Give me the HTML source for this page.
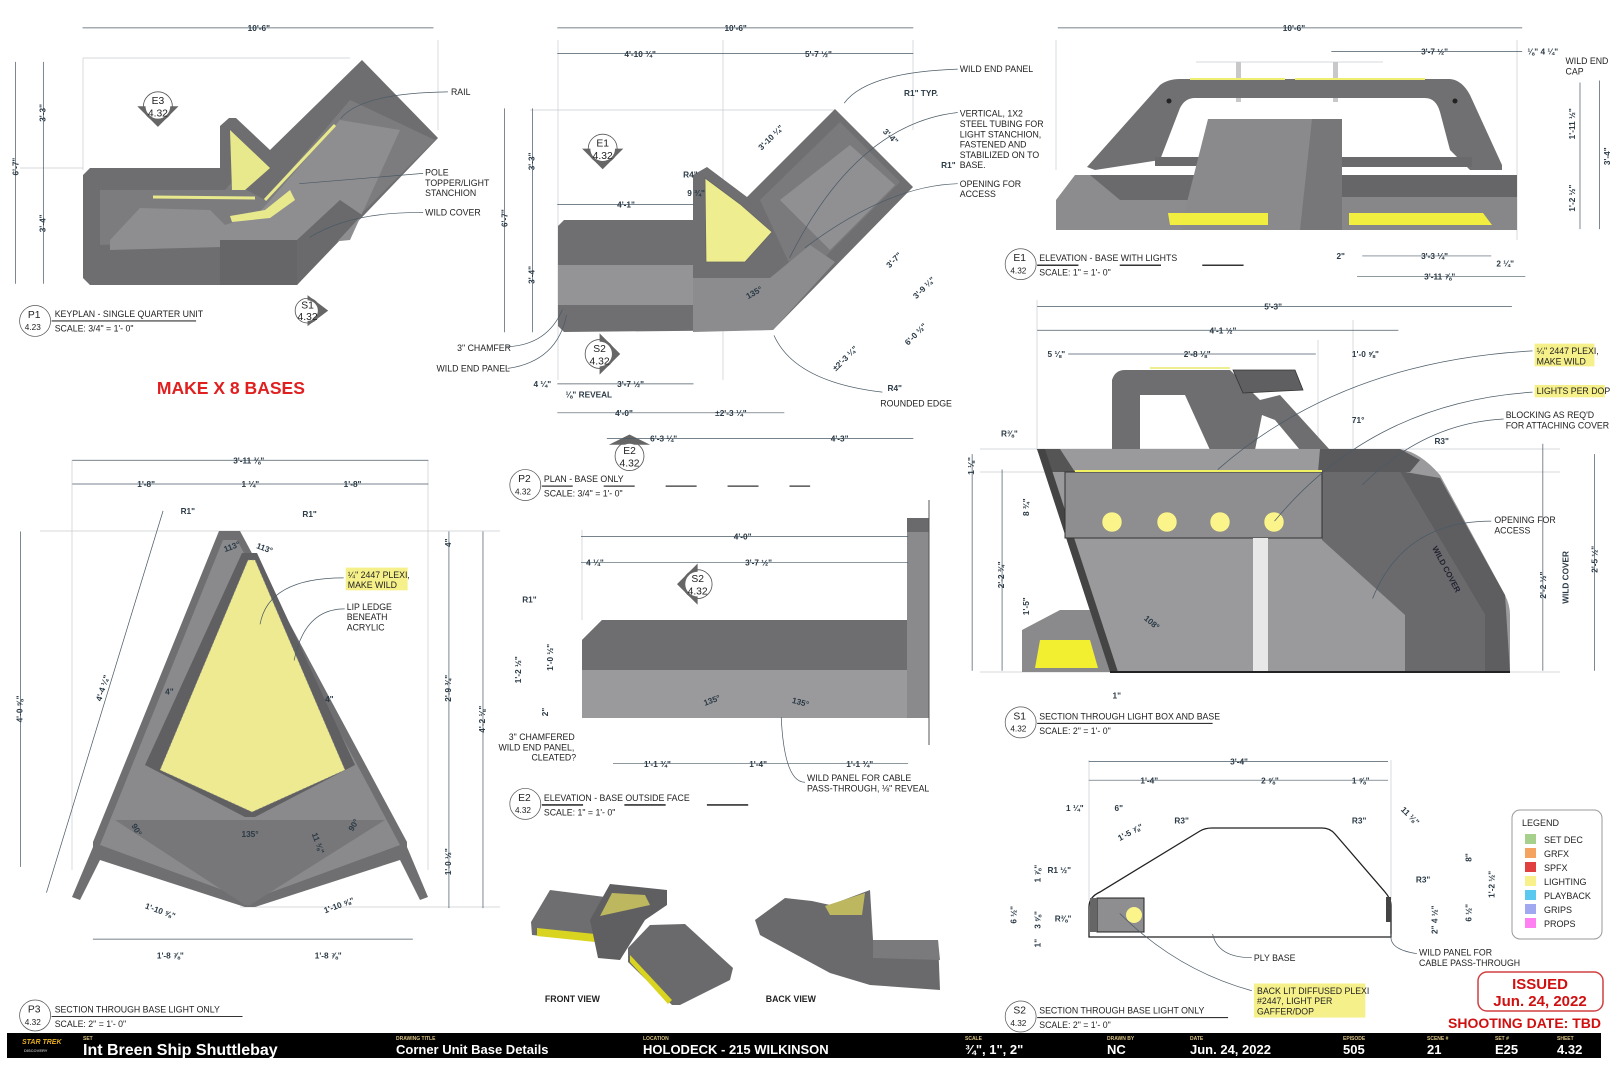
<!DOCTYPE html>
<html><head><meta charset="utf-8"><style>
html,body{margin:0;padding:0;background:#fff;width:1618px;height:1080px;overflow:hidden}
svg{display:block}
text{font-family:"Liberation Sans",sans-serif;fill:#222}
.d{stroke:#4a5a66;stroke-width:.7;fill:none}
.g{stroke:#c8ccd0;stroke-width:.7;fill:none}
.t{font-size:8px;font-weight:bold;fill:#2a3a46}
.l{font-size:8.5px;fill:#222}
</style></head><body>
<svg width="1618" height="1080" viewBox="0 0 1618 1080" xmlns="http://www.w3.org/2000/svg">
<!-- ========== P1 keyplan (actual coords) ========== -->
<g>
<line class="g" x1="83" y1="58" x2="83" y2="170"/><line class="g" x1="83" y1="58" x2="350" y2="58"/>
<line class="g" x1="438" y1="40" x2="438" y2="130"/><line class="g" x1="20" y1="168" x2="83" y2="168"/>
<polygon points="83,175 90,168 220,168 220,126 229,118 236,118 270,150 362,60 438,138 297,285 90,285 83,278" fill="#6e6e70"/>
<polygon points="100,190 225,190 232,182 265,200 350,100 435,140 330,245 215,240 100,245" fill="#7c7c7e"/>
<polygon points="110,240 140,208 210,210 225,225 258,214 340,120 400,130 350,240 300,245 110,250" fill="#8e8e90"/>
<polygon points="230,130 270,168 245,190 232,190" fill="#e8e88c"/>
<line x1="153" y1="197" x2="255" y2="198" stroke="#e8e88c" stroke-width="3"/>
<line x1="265" y1="200" x2="335" y2="125" stroke="#e8e88c" stroke-width="3"/>
<polygon points="230,216 265,210 290,190 295,200 270,218 232,222" fill="#e8e88c"/>
<polygon points="220,240 297,240 297,285 220,285" fill="#666668"/>
<polygon points="297,240 340,200 362,215 297,285" fill="#6a6a6c"/>
</g>
<!-- ========== P2 plan ========== -->
<g>
<line class="g" x1="558" y1="40" x2="558" y2="380"/><line class="g" x1="913" y1="40" x2="913" y2="130"/>
<line class="g" x1="723" y1="40" x2="723" y2="380"/><line class="g" x1="530" y1="110" x2="835" y2="110"/>
<polygon points="558,226 564,220 693,220 693,175 707,167 747,197 835,109 913,187 773,330 564,332 558,326" fill="#6f6f71"/>
<polygon points="558,265 693,265 693,305 558,305" fill="#949496"/>
<polygon points="705,178 740,204 772,232 745,262 706,262" fill="#eeee90" stroke="#666" stroke-width=".8"/>
<polygon points="760,200 840,122 900,182 820,262 790,265" fill="#7a7a7c"/>
<polygon points="780,200 850,145 895,185 830,250" fill="#909092"/>
<polygon points="693,278 770,278 810,245 835,262 773,330 693,332" fill="#8c8c8e"/>
</g>
<!-- ========== E1 elevation ========== -->
<g>
<line class="g" x1="1056" y1="40" x2="1056" y2="170"/><line class="g" x1="1517" y1="40" x2="1517" y2="240"/>
<line class="g" x1="1196" y1="62" x2="1383" y2="62"/>
<rect x="1236" y="62" width="5" height="40" fill="#c8c8ca"/><rect x="1333" y="62" width="5" height="40" fill="#c8c8ca"/>
<path d="M1087,167 L1160,85 Q1168,79 1180,79 L1450,79 Q1462,80 1470,95 L1502,165 L1502,170 L1470,170 L1450,150 L1440,112 Q1436,98 1425,98 L1195,98 Q1185,98 1180,108 L1160,160 L1095,170 Z" fill="#707072"/>
<line x1="1190" y1="79" x2="1285" y2="79" stroke="#eeee70" stroke-width="2"/><line x1="1295" y1="79" x2="1425" y2="79" stroke="#eeee70" stroke-width="2"/>
<rect x="1342" y="157" width="130" height="10" fill="#6a6a6c"/><rect x="1155" y="157" width="55" height="9" fill="#6a6a6c"/>
<polygon points="1056,230 1056,200 1075,175 1240,175 1270,198 1270,230" fill="#8c8c8e"/>
<polygon points="1090,175 1240,175 1270,200 1120,200" fill="#6a6a6c"/>
<polygon points="1208,119 1342,119 1342,230 1180,230" fill="#8a8a8c"/>
<polygon points="1312,119 1342,119 1342,230 1300,230" fill="#777779"/>
<rect x="1342" y="175" width="175" height="55" fill="#878789"/>
<rect x="1342" y="175" width="175" height="22" fill="#666668"/>
<polygon points="1168,213 1268,213 1268,225 1170,225" fill="#f2ee40"/>
<polygon points="1349,213 1483,213 1492,225 1349,225" fill="#f2ee40"/>
<circle cx="1169" cy="101" r="2.5" fill="#222"/><circle cx="1455" cy="101" r="2.5" fill="#222"/>
</g>
<!-- ========== S1 section ========== -->
<g>
<line class="g" x1="1037" y1="300" x2="1037" y2="450"/><line class="g" x1="1353" y1="320" x2="1353" y2="450"/><line class="g" x1="1318" y1="340" x2="1318" y2="450"/>
<line class="g" x1="980" y1="449" x2="1560" y2="449"/><line class="g" x1="980" y1="472" x2="1560" y2="472"/><line class="g" x1="980" y1="672" x2="1560" y2="672"/>
<path d="M1112,470 L1112,380 Q1115,370 1125,370 L1230,370 L1260,400 L1280,395 L1330,450 L1300,450 L1275,420 L1262,415 L1255,450 L1210,450 L1185,395 L1140,395 L1140,470 Z" fill="#6e6e70"/>
<polygon points="1233,370 1295,370 1303,390 1243,393" fill="#5f5f61" stroke="#333" stroke-width=".8"/>
<line x1="1150" y1="368" x2="1230" y2="368" stroke="#eeee90" stroke-width="2"/>
<polygon points="1022,630 1060,610 1110,610 1110,672 1022,672" fill="#8a8a8c"/>
<polygon points="1040,640 1090,640 1098,668 1035,668" fill="#f2ee30"/>
<path d="M1037,449 L1400,449 Q1420,452 1440,475 L1505,595 Q1510,605 1510,615 L1510,672 L1110,672 Z" fill="#9a9a9c"/>
<polygon points="1322,472 1400,472 1485,615 1485,672 1405,672 1405,615 1322,540" fill="#6a6a6c"/>
<polygon points="1405,472 1440,478 1505,595 1510,672 1485,672 1485,615 1400,472" fill="#5e5e60"/>
<polygon points="1037,449 1060,449 1075,472 1045,472" fill="#555"/>
<polygon points="1320,449 1400,449 1420,460 1410,472 1318,472" fill="#5a5a5c"/>
<polygon points="1037,449 1045,449 1118,672 1110,672" fill="#444"/>
<rect x="1065" y="472" width="257" height="66" fill="#8e8e90" stroke="#333" stroke-width="1"/>
<line x1="1075" y1="471" x2="1322" y2="471" stroke="#f0f060" stroke-width="2"/>
<rect x="1253" y="538" width="15" height="134" fill="#e8e8e8"/>
<g fill="#fbf48a" stroke="#888" stroke-width=".5"><circle cx="1112" cy="522" r="10"/><circle cx="1167" cy="522" r="10"/><circle cx="1220" cy="522" r="10"/><circle cx="1274" cy="522" r="10"/></g>
<line x1="1110" y1="672" x2="1510" y2="672" stroke="#222" stroke-width="2"/>
<text x="1432" y="548" transform="rotate(62 1432 548)" style="font-size:8px;font-weight:bold;fill:#223" >WILD COVER</text>
</g>
<!-- ========== P3 big triangle ========== -->
<g>
<line class="g" x1="72" y1="460" x2="72" y2="870"/><line class="g" x1="428" y1="460" x2="428" y2="870"/>
<line class="g" x1="40" y1="531" x2="500" y2="531"/><line class="g" x1="240" y1="907" x2="500" y2="907"/>
<polygon points="72,897 93,847 93,842 219,531 240,531 407,842 407,847 428,897 420,900 400,860 255,907 245,907 100,860 80,900" fill="#6f6f71"/>
<polygon points="223,540 237,540 400,845 250,900 100,845" fill="#8a8a8c"/>
<polygon points="115,820 385,820 250,905 245,905" fill="#777779"/>
<polygon points="242,553 257,553 355,765 255,817 245,817 145,765" fill="#606062"/>
<polygon points="248,560 255,560 345,770 252,812 160,770" fill="#eeea92" stroke="#888" stroke-width=".6" stroke-dasharray="2,2"/>
</g>
<!-- ========== E2 elevation ========== -->
<g>
<line class="g" x1="582" y1="530" x2="582" y2="620"/>
<polygon points="582,640 602,620 907,620 907,718 582,718" fill="#9a9a9c"/>
<polygon points="602,620 907,620 907,670 600,670 582,670 582,640" fill="#6e6e70"/>
<rect x="907" y="518" width="22" height="200" fill="#8a8a8c"/><rect x="907" y="518" width="22" height="14" fill="#6a6a6c"/>
<line x1="929" y1="500" x2="929" y2="745" stroke="#555" stroke-width="1"/>
</g>
<!-- ========== S2 section ========== -->
<g>
<line class="g" x1="1089" y1="760" x2="1089" y2="900"/><line class="g" x1="1391" y1="760" x2="1391" y2="900"/>
<path d="M1089,937 L1089,907 Q1089,897 1100,892 L1200,831 Q1205,828 1212,828 L1322,828 Q1330,828 1335,834 L1385,892 Q1391,899 1391,905 L1391,937 Z" fill="#fff" stroke="#222" stroke-width="1.3"/>
<rect x="1097" y="898" width="47" height="34" fill="#8e8e90" stroke="#222" stroke-width="1"/>
<rect x="1090" y="898" width="7" height="34" fill="#666"/>
<circle cx="1134" cy="915" r="8" fill="#fbf48a"/>
<rect x="1386" y="897" width="5" height="25" fill="#444"/>
</g>
<!-- ========== front/back views ========== -->
<g>
<polygon points="531,922 550,890 605,897 605,942 532,935" fill="#6e6e70"/>
<polygon points="537,928 595,934 595,942 537,936" fill="#d8d420"/>
<polygon points="628,948 650,925 685,924 733,968 730,980 680,1005 672,1005 628,962" fill="#6a6a6c"/>
<polygon points="630,955 672,1000 668,1004 630,962" fill="#d8d420"/>
<polygon points="590,920 610,884 667,890 667,905 645,920 620,960 598,958" fill="#5f5f61"/>
<polygon points="600,916 612,893 645,895 650,905" fill="#bdb860"/>
<polygon points="755,920 785,898 812,901 830,905 870,890 873,940 938,940 940,990 870,985 830,973 760,935" fill="#6a6a6c"/>
<polygon points="825,906 865,893 862,915 830,915" fill="#bdb860"/>
<polygon points="873,940 938,940 940,960 873,958" fill="#7a7a7c"/>
</g>
<!-- ========== Legend ========== -->
<rect x="1512" y="810" width="90" height="129" rx="8" fill="#fff" stroke="#999" stroke-width="1"/>
<g style="font-size:9px">
<text x="1522" y="826">LEGEND</text>
<rect x="1525" y="834" width="11" height="10" fill="#a8d08d"/><text x="1544" y="843">SET DEC</text>
<rect x="1525" y="848" width="11" height="10" fill="#f4a460"/><text x="1544" y="857">GRFX</text>
<rect x="1525" y="862" width="11" height="10" fill="#e04040"/><text x="1544" y="871">SPFX</text>
<rect x="1525" y="876" width="11" height="10" fill="#f8f08a"/><text x="1544" y="885">LIGHTING</text>
<rect x="1525" y="890" width="11" height="10" fill="#5bc8f0"/><text x="1544" y="899">PLAYBACK</text>
<rect x="1525" y="904" width="11" height="10" fill="#a0a8f0"/><text x="1544" y="913">GRIPS</text>
<rect x="1525" y="918" width="11" height="10" fill="#ff80f0"/><text x="1544" y="927">PROPS</text>
</g>
<!-- ========== Issued / title bar ========== -->
<rect x="1478" y="972" width="125" height="39" rx="9" fill="#fff" stroke="#d04040" stroke-width="1.5"/>
<text x="1540" y="989" text-anchor="middle" style="font-size:15px;font-weight:bold;fill:#d01010">ISSUED</text>
<text x="1540" y="1006" text-anchor="middle" style="font-size:15px;font-weight:bold;fill:#d01010">Jun. 24, 2022</text>
<text x="1601" y="1028" text-anchor="end" style="font-size:14px;font-weight:bold;fill:#d01010">SHOOTING DATE: TBD</text>
<rect x="7" y="1033" width="1594" height="25" fill="#000"/>
<g style="fill:#fff;font-weight:bold">
<text x="22" y="1044" style="font-size:7px;fill:#e8b020;font-style:italic">STAR TREK</text>
<text x="24" y="1052" style="font-size:4px;fill:#aaa">DISCOVERY</text>
<text x="83" y="1040" style="font-size:5px;fill:#d8c080">SET</text>
<text x="83" y="1055" style="font-size:16px;fill:#fff">Int Breen Ship Shuttlebay</text>
<text x="396" y="1040" style="font-size:5px;fill:#d8c080">DRAWING TITLE</text>
<text x="396" y="1054" style="font-size:13px;fill:#fff">Corner Unit Base Details</text>
<text x="643" y="1040" style="font-size:5px;fill:#d8c080">LOCATION</text>
<text x="643" y="1054" style="font-size:13px;fill:#fff">HOLODECK - 215 WILKINSON</text>
<text x="965" y="1040" style="font-size:5px;fill:#d8c080">SCALE</text>
<text x="965" y="1054" style="font-size:13px;fill:#fff">¾", 1", 2"</text>
<text x="1107" y="1040" style="font-size:5px;fill:#d8c080">DRAWN BY</text>
<text x="1107" y="1054" style="font-size:13px;fill:#fff">NC</text>
<text x="1190" y="1040" style="font-size:5px;fill:#d8c080">DATE</text>
<text x="1190" y="1054" style="font-size:13px;fill:#fff">Jun. 24, 2022</text>
<text x="1343" y="1040" style="font-size:5px;fill:#d8c080">EPISODE</text>
<text x="1343" y="1054" style="font-size:13px;fill:#fff">505</text>
<text x="1427" y="1040" style="font-size:5px;fill:#d8c080">SCENE #</text>
<text x="1427" y="1054" style="font-size:13px;fill:#fff">21</text>
<text x="1495" y="1040" style="font-size:5px;fill:#d8c080">SET #</text>
<text x="1495" y="1054" style="font-size:13px;fill:#fff">E25</text>
<text x="1557" y="1040" style="font-size:5px;fill:#d8c080">SHEET</text>
<text x="1557" y="1054" style="font-size:13px;fill:#fff">4.32</text>
</g>
<!-- ========== labels & dimensions in perceived coords ========== -->
<g transform="scale(1.032)">
<!-- P1 dims -->
<line class="d" x1="80" y1="27" x2="420" y2="27"/><text class="t" x="240" y="30">10'-6"</text>
<line class="d" x1="15" y1="60" x2="15" y2="275"/><text class="t" x="18" y="170" transform="rotate(-90 18 170)">6'-7"</text>
<line class="d" x1="42" y1="60" x2="42" y2="275"/><text class="t" x="44" y="118" transform="rotate(-90 44 118)">3'-3"</text><text class="t" x="44" y="225" transform="rotate(-90 44 225)">3'-4"</text>
<text class="l" x="437" y="92">RAIL</text><text class="l" x="412" y="170">POLE</text><text class="l" x="412" y="180">TOPPER/LIGHT</text><text class="l" x="412" y="190">STANCHION</text><text class="l" x="412" y="209">WILD COVER</text>
<path class="d" d="M434,89 Q350,90 330,115"/><path class="d" d="M410,168 L290,178"/><path class="d" d="M410,206 Q340,205 300,230"/>
<!-- markers -->
<g fill="#fff" stroke="#555" stroke-width=".8">
<circle cx="153" cy="103" r="14"/><circle cx="584" cy="144" r="14"/><circle cx="581" cy="343" r="14"/><circle cx="610" cy="442" r="14"/><circle cx="298" cy="301" r="12"/><circle cx="676" cy="566" r="14"/>
</g>
<g fill="#666"><polygon points="133,103 173,103 153,123"/><polygon points="564,144 604,144 584,164"/><polygon points="581,323 601,343 581,363"/><polygon points="590,431 630,431 610,421"/><polygon points="656,566 676,546 676,586"/><polygon points="298,286 318,301 298,316"/></g>
<g fill="#fff"><circle cx="153" cy="103" r="12"/><circle cx="584" cy="144" r="12"/><circle cx="581" cy="343" r="12"/><circle cx="610" cy="442" r="12"/><circle cx="676" cy="566" r="12"/><circle cx="298" cy="301" r="10"/></g>
<g style="font-size:10px" text-anchor="middle">
<text x="153" y="101">E3</text><text x="153" y="113">4.32</text>
<text x="584" y="142">E1</text><text x="584" y="154">4.32</text>
<text x="581" y="341">S2</text><text x="581" y="353">4.32</text>
<text x="610" y="440">E2</text><text x="610" y="452">4.32</text>
<text x="676" y="564">S2</text><text x="676" y="576">4.32</text>
<text x="298" y="299">S1</text><text x="298" y="310">4.32</text>
</g>
<!-- titles -->
<g style="font-size:8.5px">
<circle cx="34" cy="311" r="15" fill="#fff" stroke="#555" stroke-width=".7"/><text x="27" y="308" style="font-size:10px">P1</text><text x="24" y="320" style="font-size:8px">4.23</text><text x="53" y="307">KEYPLAN - SINGLE QUARTER UNIT</text><text x="53" y="321">SCALE: 3/4" = 1'- 0"</text><line x1="50" y1="311" x2="190" y2="311" stroke="#333" stroke-width="1"/>
<circle cx="509" cy="470" r="15" fill="#fff" stroke="#555" stroke-width=".7"/><text x="502" y="467" style="font-size:10px">P2</text><text x="499" y="479" style="font-size:8px">4.32</text><text x="527" y="467">PLAN - BASE ONLY</text><text x="527" y="481">SCALE: 3/4" = 1'- 0"</text><line x1="525" y1="471" x2="785" y2="471" stroke="#333" stroke-width="1.2" stroke-dasharray="30,30"/>
<circle cx="989" cy="256" r="15" fill="#fff" stroke="#555" stroke-width=".7"/><text x="982" y="253" style="font-size:10px">E1</text><text x="979" y="265" style="font-size:8px">4.32</text><text x="1007" y="253">ELEVATION - BASE WITH LIGHTS</text><text x="1007" y="267">SCALE: 1" = 1'- 0"</text><line x1="1005" y1="257" x2="1225" y2="257" stroke="#333" stroke-width="1.5" stroke-dasharray="40,40"/>
<circle cx="989" cy="700" r="15" fill="#fff" stroke="#555" stroke-width=".7"/><text x="982" y="697" style="font-size:10px">S1</text><text x="979" y="709" style="font-size:8px">4.32</text><text x="1007" y="697">SECTION THROUGH LIGHT BOX AND BASE</text><text x="1007" y="711">SCALE: 2" = 1'- 0"</text><line x1="1005" y1="701" x2="1175" y2="701" stroke="#333" stroke-width="1"/>
<circle cx="509" cy="779" r="15" fill="#fff" stroke="#555" stroke-width=".7"/><text x="502" y="776" style="font-size:10px">E2</text><text x="499" y="788" style="font-size:8px">4.32</text><text x="527" y="776">ELEVATION - BASE OUTSIDE FACE</text><text x="527" y="790">SCALE: 1" = 1'- 0"</text><line x1="525" y1="780" x2="745" y2="780" stroke="#333" stroke-width="1.5" stroke-dasharray="40,40"/>
<circle cx="34" cy="984" r="15" fill="#fff" stroke="#555" stroke-width=".7"/><text x="27" y="981" style="font-size:10px">P3</text><text x="24" y="993" style="font-size:8px">4.32</text><text x="53" y="981">SECTION THROUGH BASE LIGHT ONLY</text><text x="53" y="995">SCALE: 2" = 1'- 0"</text><line x1="50" y1="985" x2="235" y2="985" stroke="#333" stroke-width="1"/>
<circle cx="989" cy="985" r="15" fill="#fff" stroke="#555" stroke-width=".7"/><text x="982" y="982" style="font-size:10px">S2</text><text x="979" y="994" style="font-size:8px">4.32</text><text x="1007" y="982">SECTION THROUGH BASE LIGHT ONLY</text><text x="1007" y="996">SCALE: 2" = 1'- 0"</text><line x1="1005" y1="986" x2="1190" y2="986" stroke="#333" stroke-width="1"/>
</g>
<text x="152" y="382" style="font-size:17px;font-weight:bold;fill:#e02020">MAKE X 8 BASES</text>
<!-- P2 dims -->
<line class="d" x1="540" y1="27" x2="885" y2="27"/><text class="t" x="702" y="30">10'-6"</text>
<line class="d" x1="540" y1="52" x2="885" y2="52"/><text class="t" x="605" y="55">4'-10 ¾"</text><text class="t" x="780" y="55">5'-7 ½"</text>
<line class="d" x1="489" y1="105" x2="489" y2="322"/><text class="t" x="492" y="220" transform="rotate(-90 492 220)">6'-7"</text>
<line class="d" x1="516" y1="105" x2="516" y2="322"/><text class="t" x="518" y="165" transform="rotate(-90 518 165)">3'-3"</text><text class="t" x="518" y="275" transform="rotate(-90 518 275)">3'-4"</text>
<line class="d" x1="540" y1="198" x2="672" y2="198"/><text class="t" x="598" y="201">4'-1"</text>
<line class="d" x1="540" y1="372" x2="672" y2="372"/><text class="t" x="598" y="375">3'-7 ½"</text>
<line class="d" x1="540" y1="400" x2="760" y2="400"/><text class="t" x="596" y="403">4'-0"</text>
<line class="d" x1="588" y1="425" x2="885" y2="425"/><text class="t" x="630" y="428">6'-3 ¼"</text><text class="t" x="805" y="428">4'-3"</text>
<text class="t" x="517" y="375">4 ¼"</text><text class="t" x="548" y="385">⅛" REVEAL</text><text class="t" x="693" y="403">±2'-3 ¼"</text>
<text class="t" x="600" y="293" transform="rotate(-90 600 293)"></text>
<text class="l" x="930" y="70">WILD END PANEL</text><text class="t" x="876" y="93">R1" TYP.</text>
<text class="l" x="930" y="113">VERTICAL, 1X2</text><text class="l" x="930" y="123">STEEL TUBING FOR</text><text class="l" x="930" y="133">LIGHT STANCHION,</text><text class="l" x="930" y="143">FASTENED AND</text><text class="l" x="930" y="153">STABILIZED ON TO</text><text class="l" x="930" y="163">BASE.</text><text class="t" x="912" y="163">R1"</text>
<text class="l" x="930" y="181">OPENING FOR</text><text class="l" x="930" y="191">ACCESS</text>
<text class="l" x="443" y="340">3" CHAMFER</text><text class="l" x="423" y="360">WILD END PANEL</text>
<text class="t" x="860" y="379">R4"</text><text class="l" x="853" y="394">ROUNDED EDGE</text>
<text class="t" x="662" y="172">R4"</text><text class="t" x="666" y="190">9 ¾"</text>
<text class="t" x="725" y="290" transform="rotate(-30 725 290)">135°</text>
<text class="t" x="738" y="146" transform="rotate(-45 738 146)">3'-10 ¼"</text>
<text class="t" x="855" y="128" transform="rotate(45 855 128)">3'-4"</text>
<text class="t" x="862" y="260" transform="rotate(-45 862 260)">3'-7"</text>
<text class="t" x="888" y="290" transform="rotate(-45 888 290)">3'-9 ¼"</text>
<text class="t" x="880" y="335" transform="rotate(-45 880 335)">6'-0 ½"</text>
<text class="t" x="810" y="360" transform="rotate(-45 810 360)">±2'-3 ¼"</text>
<path class="d" d="M928,67 Q840,70 818,100"/><path class="d" d="M928,178 Q860,180 780,240"/><path class="d" d="M928,109 Q830,120 765,250"/>
<path class="d" d="M490,336 Q530,335 545,300"/><path class="d" d="M492,357 Q540,350 549,305"/><path class="d" d="M855,380 Q770,370 750,325"/>
<!-- E1 dims -->
<line class="d" x1="1025" y1="27" x2="1475" y2="27"/><text class="t" x="1243" y="30">10'-6"</text>
<line class="d" x1="1290" y1="50" x2="1475" y2="50"/><text class="t" x="1377" y="53">3'-7 ½"</text><text class="t" x="1480" y="53">⅛" 4 ¼"</text>
<text class="l" x="1517" y="62">WILD END</text><text class="l" x="1517" y="72">CAP</text>
<line class="d" x1="1531" y1="80" x2="1531" y2="222"/><text class="t" x="1526" y="135" transform="rotate(-90 1526 135)">1'-11 ½"</text><text class="t" x="1526" y="205" transform="rotate(-90 1526 205)">1'-2 ½"</text>
<line class="d" x1="1550" y1="78" x2="1550" y2="222"/><text class="t" x="1560" y="160" transform="rotate(-90 1560 160)">3'-4"</text>
<line class="d" x1="1320" y1="248" x2="1445" y2="248"/><text class="t" x="1377" y="251">3'-3 ¼"</text><text class="t" x="1295" y="251">2"</text><text class="t" x="1450" y="258">2 ¼"</text>
<line class="d" x1="1315" y1="268" x2="1478" y2="268"/><text class="t" x="1380" y="271">3'-11 ⅞"</text>
<!-- S1 dims / labels -->
<line class="d" x1="1005" y1="297" x2="1465" y2="297"/><text class="t" x="1225" y="300">5'-3"</text>
<line class="d" x1="1005" y1="320" x2="1355" y2="320"/><text class="t" x="1172" y="323">4'-1 ½"</text>
<line class="d" x1="1035" y1="343" x2="1275" y2="343"/><text class="t" x="1015" y="346">5 ⅛"</text><text class="t" x="1147" y="346">2'-8 ⅛"</text><text class="t" x="1310" y="346">1'-0 ⅝"</text>
<rect x="1487" y="333" width="58" height="22" fill="#f6f08a"/><text class="l" x="1489" y="343">¼" 2447 PLEXI,</text><text class="l" x="1489" y="353">MAKE WILD</text>
<rect x="1487" y="373" width="68" height="12" fill="#f6f08a"/><text class="l" x="1489" y="382">LIGHTS PER DOP</text>
<text class="l" x="1459" y="405">BLOCKING AS REQ'D</text><text class="l" x="1459" y="415">FOR ATTACHING COVER</text>
<text class="l" x="1448" y="507">OPENING FOR</text><text class="l" x="1448" y="517">ACCESS</text>
<text class="t" x="1390" y="430">R3"</text><text class="t" x="970" y="423">R⅜"</text><text class="t" x="1310" y="410">71°</text><text class="t" x="1108" y="600" transform="rotate(40 1108 600)">108°</text>
<path class="d" d="M1485,340 Q1300,350 1180,455"/><path class="d" d="M1485,380 Q1330,390 1235,505"/><path class="d" d="M1457,406 Q1380,410 1320,470"/><path class="d" d="M1445,505 Q1360,505 1330,580"/>
<line class="d" x1="942" y1="440" x2="942" y2="650"/><text class="t" x="944" y="460" transform="rotate(-90 944 460)">1 ⅛"</text>
<line class="d" x1="971" y1="455" x2="971" y2="650"/><text class="t" x="973" y="570" transform="rotate(-90 973 570)">2'-2 ¾"</text><text class="t" x="973" y="600" transform="rotate(-90 973 600)"></text>
<text class="t" x="997" y="596" transform="rotate(-90 997 596)">1'-5"</text><text class="t" x="997" y="500" transform="rotate(-90 997 500)">8 ¾"</text>
<line class="d" x1="1495" y1="430" x2="1495" y2="650"/><text class="t" x="1498" y="580" transform="rotate(-90 1498 580)">2'-2 ½"</text><text class="t" x="1520" y="585" transform="rotate(-90 1520 585)">WILD COVER</text>
<line class="d" x1="1545" y1="440" x2="1545" y2="650"/><text class="t" x="1548" y="555" transform="rotate(-90 1548 555)">2'-5 ½"</text>
<text class="t" x="1078" y="677">1"</text>
<!-- P3 dims / labels -->
<line class="d" x1="70" y1="446" x2="415" y2="446"/><text class="t" x="226" y="449">3'-11 ⅜"</text>
<line class="d" x1="70" y1="469" x2="415" y2="469"/><text class="t" x="133" y="472">1'-8"</text><text class="t" x="234" y="472">1 ¼"</text><text class="t" x="333" y="472">1'-8"</text>
<text class="t" x="175" y="498">R1"</text><text class="t" x="293" y="501">R1"</text>
<text class="t" x="218" y="535" transform="rotate(-20 218 535)">113°</text><text class="t" x="248" y="531" transform="rotate(20 248 531)">113°</text>
<text class="t" x="160" y="673">4"</text><text class="t" x="315" y="680">4"</text><text class="t" x="234" y="811">135°</text><text class="t" x="127" y="800" transform="rotate(60 127 800)">90°</text><text class="t" x="342" y="806" transform="rotate(-60 342 806)">90°</text><text class="t" x="302" y="808" transform="rotate(70 302 808)">11 ⅜"</text>
<rect x="335" y="550" width="60" height="22" fill="#f6f08a"/><text class="l" x="337" y="560">¼" 2447 PLEXI,</text><text class="l" x="337" y="570">MAKE WILD</text>
<text class="l" x="336" y="591">LIP LEDGE</text><text class="l" x="336" y="601">BENEATH</text><text class="l" x="336" y="611">ACRYLIC</text>
<path class="d" d="M333,560 Q260,560 252,605"/><path class="d" d="M334,590 Q295,590 285,640"/>
<line class="d" x1="20" y1="515" x2="20" y2="840"/><text class="t" x="22" y="700" transform="rotate(-90 22 700)">4'-0 ⅝"</text>
<line class="d" x1="435" y1="515" x2="435" y2="880"/><text class="t" x="437" y="530" transform="rotate(-90 437 530)">4"</text><text class="t" x="437" y="680" transform="rotate(-90 437 680)">2'-9 ¾"</text><text class="t" x="437" y="848" transform="rotate(-90 437 848)">1'-0 ½"</text>
<line class="d" x1="468" y1="515" x2="468" y2="880"/><text class="t" x="470" y="710" transform="rotate(-90 470 710)">4'-2 ⅛"</text>
<line class="d" x1="158" y1="495" x2="45" y2="865"/><text class="t" x="98" y="680" transform="rotate(-72 98 680)">4'-4 ¼"</text>
<text class="t" x="140" y="880" transform="rotate(20 140 880)">1'-10 ⅝"</text><text class="t" x="315" y="885" transform="rotate(-20 315 885)">1'-10 ⅝"</text>
<line class="d" x1="90" y1="910" x2="400" y2="910"/><text class="t" x="152" y="929">1'-8 ⅞"</text><text class="t" x="305" y="929">1'-8 ⅞"</text>
<!-- E2 dims / labels -->
<line class="d" x1="563" y1="520" x2="880" y2="520"/><text class="t" x="711" y="523">4'-0"</text>
<line class="d" x1="563" y1="545" x2="880" y2="545"/><text class="t" x="568" y="548">4 ¼"</text><text class="t" x="722" y="548">3'-7 ½"</text>
<text class="t" x="506" y="584">R1"</text>
<text class="t" x="505" y="662" transform="rotate(-90 505 662)">1'-2 ½"</text><text class="t" x="536" y="650" transform="rotate(-90 536 650)">1'-0 ½"</text><text class="t" x="531" y="694" transform="rotate(-90 531 694)">2"</text>
<text class="t" x="683" y="684" transform="rotate(-20 683 684)">135°</text><text class="t" x="767" y="681" transform="rotate(15 767 681)">135°</text>
<line class="d" x1="594" y1="740" x2="880" y2="740"/><text class="t" x="624" y="743">1'-1 ¾"</text><text class="t" x="726" y="743">1'-4"</text><text class="t" x="820" y="743">1'-1 ¾"</text>
<text class="l" x="493" y="717">3" CHAMFERED</text><text class="l" x="483" y="727">WILD END PANEL,</text><text class="l" x="515" y="737">CLEATED?</text>
<text class="l" x="782" y="757">WILD PANEL FOR CABLE</text><text class="l" x="782" y="767">PASS-THROUGH, ⅛" REVEAL</text>
<path class="d" d="M780,758 Q760,758 757,695"/>
<!-- S2 dims / labels -->
<line class="d" x1="1055" y1="738" x2="1345" y2="738"/><text class="t" x="1192" y="741">3'-4"</text>
<line class="d" x1="1055" y1="756" x2="1345" y2="756"/><text class="t" x="1105" y="759">1'-4"</text><text class="t" x="1222" y="759">2 ⅝"</text><text class="t" x="1310" y="759">1 ⅝"</text>
<text class="t" x="1033" y="786">1 ¼"</text><text class="t" x="1080" y="786">6"</text><text class="t" x="1085" y="815" transform="rotate(-28 1085 815)">1'-5 ⅞"</text>
<text class="t" x="1138" y="798">R3"</text><text class="t" x="1310" y="798">R3"</text><text class="t" x="1372" y="855">R3"</text><text class="t" x="1015" y="846">R1 ½"</text><text class="t" x="1022" y="893">R⅜"</text>
<text class="t" x="1357" y="785" transform="rotate(45 1357 785)">11 ⅛"</text>
<text class="t" x="1008" y="855" transform="rotate(-90 1008 855)">1 ⅞"</text><text class="t" x="985" y="895" transform="rotate(-90 985 895)">6 ½"</text><text class="t" x="1008" y="900" transform="rotate(-90 1008 900)">3 ⅝"</text><text class="t" x="1008" y="918" transform="rotate(-90 1008 918)">1"</text>
<text class="t" x="1426" y="835" transform="rotate(-90 1426 835)">8"</text><text class="t" x="1448" y="870" transform="rotate(-90 1448 870)">1'-2 ½"</text><text class="t" x="1426" y="893" transform="rotate(-90 1426 893)">6 ½"</text><text class="t" x="1393" y="905" transform="rotate(-90 1393 905)">2" 4 ½"</text>
<text class="l" x="1215" y="931">PLY BASE</text><path class="d" d="M1213,928 Q1180,928 1175,905"/>
<text class="l" x="1375" y="926">WILD PANEL FOR</text><text class="l" x="1375" y="936">CABLE PASS-THROUGH</text><path class="d" d="M1373,924 Q1345,920 1348,905"/>
<rect x="1215" y="953" width="108" height="33" fill="#f6f08a"/><text class="l" x="1218" y="963">BACK LIT DIFFUSED PLEXI</text><text class="l" x="1218" y="973">#2447, LIGHT PER</text><text class="l" x="1218" y="983">GAFFER/DOP</text>
<path class="d" d="M1213,960 Q1140,940 1085,885"/>
<text x="528" y="971" style="font-size:8.5px;font-weight:bold">FRONT VIEW</text><text x="742" y="971" style="font-size:8.5px;font-weight:bold">BACK VIEW</text>
</g>
</svg>
</body></html>
